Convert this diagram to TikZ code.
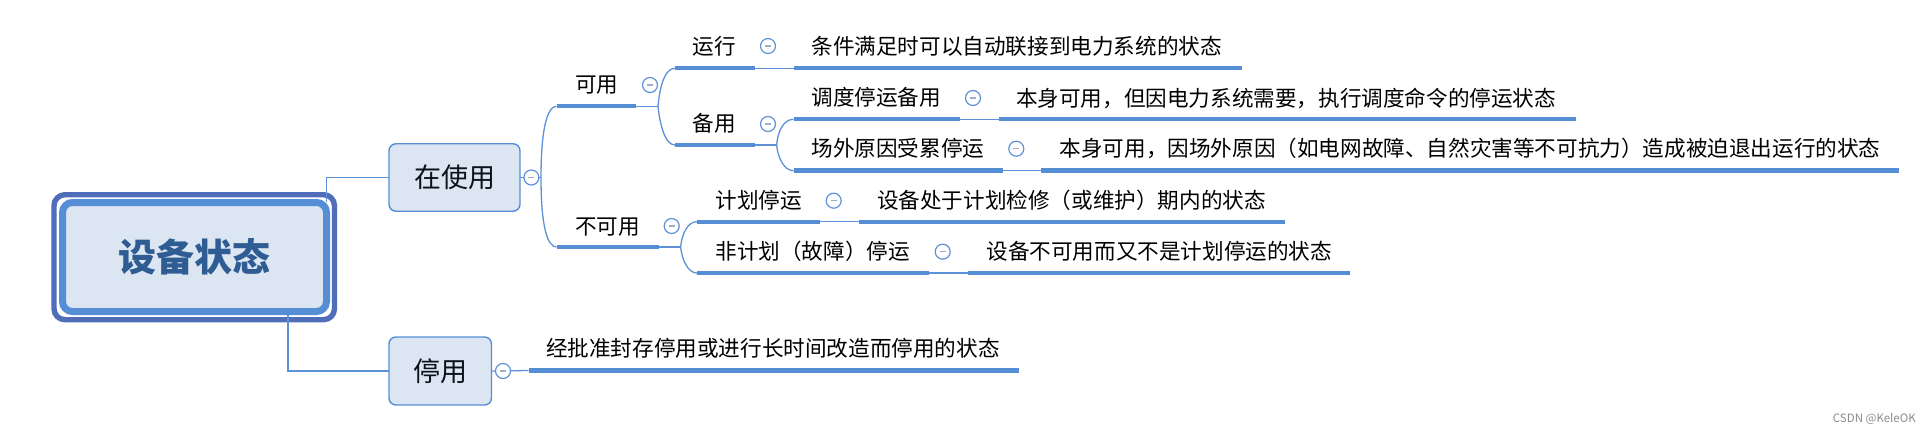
\documentclass[tikz,border=0pt]{standalone}
\usepackage{fontspec}
\setmainfont{Noto Sans CJK SC}
\definecolor{bar}{HTML}{558ED5}
\definecolor{wire}{HTML}{5E92D8}
\definecolor{pale}{HTML}{DCE6F2}
\definecolor{frameblue}{HTML}{4F6DB8}
\definecolor{titleblue}{HTML}{2F5C92}
\definecolor{minusgrey}{HTML}{9DAEC8}
\tikzset{
  x=1pt,y=-1pt,
  wireline/.style={draw=wire,line width=1.3pt},
  barline/.style={draw=bar,line width=4.4pt},
  label/.style={anchor=west,inner sep=0pt,outer sep=0pt,text height=19pt,text depth=2.6pt,font=\fontsize{21.6pt}{24pt}\selectfont,text=black},
  topicbox/.style={draw=bar,line width=1.4pt,fill=pale,rounded corners=7pt,inner sep=0pt,outer sep=0pt,font=\fontsize{27pt}{30pt}\selectfont,text=black!80!titleblue},
  toggle/.style={circle,draw=wire,line width=1.2pt,fill=white,minimum size=15pt,inner sep=0pt,outer sep=0pt,
    path picture={\draw[minusgrey,line width=1.2pt] (path picture bounding box.center)+(-3pt,0pt) -- +(3pt,0pt);}},
}
% name, left x, right x, y of the bar, text x, text y, text
\newcommand{\topicbar}[7]{%
  \coordinate (#1L) at (#2,#4);
  \coordinate (#1R) at (#3,#4);
  \draw[barline] (#1L) -- (#1R);
  \node[label] (#1T) at (#5,#6) {#7};
}
\begin{document}
\begin{tikzpicture}
\useasboundingbox (0,0) rectangle (1931,433);
\fill[white] (0,0) rectangle (1931,433);

% root
\node[draw=frameblue,line width=5.4pt,rounded corners=11pt,minimum width=280.5pt,minimum height=125pt,inner sep=0pt,outer sep=0pt] (rootframe) at (194.25,257.2) {};
\node[draw=bar,fill=pale,line width=7pt,rounded corners=10pt,minimum width=264pt,minimum height=109pt,inner sep=0pt,outer sep=0pt,font=\fontsize{38pt}{42pt}\selectfont\bfseries,text=titleblue] (root) at (194.5,257) {设备状态};

% first level
\node[topicbox,minimum width=131pt,minimum height=67.5pt] (inuse) at (454.5,177.5) {在使用};
\node[topicbox,minimum width=102.5pt,minimum height=68pt] (stop) at (440.25,371) {停用};

\coordinate (roota) at (326.5,201.7);
\coordinate (rootb) at (288,315);
\draw[wireline] (roota) |- (inuse.west);
\draw[wireline] (rootb) |- (stop.west);

% second level bars
\topicbar{ky}{556.5}{636}{106.3}{575}{84}{可用}
\topicbar{bky}{556.5}{659}{247}{575}{226.5}{不可用}
\topicbar{yx}{675}{755}{68.3}{692.7}{46}{运行}
\topicbar{by}{675}{755}{145}{692.7}{123}{备用}
\topicbar{dd}{793.6}{959.6}{119.3}{811.4}{97.7}{调度停运备用}
\topicbar{cw}{793.6}{1003}{170.7}{811.4}{148.7}{场外原因受累停运}
\topicbar{jh}{697}{820}{221.7}{715.4}{200.7}{计划停运}
\topicbar{fj}{697}{929}{273}{715.4}{251.7}{非计划（故障）停运}
% leaf bars
\topicbar{yxd}{793.6}{1241.7}{68.3}{811.4}{46}{条件满足时可以自动联接到电力系统的状态}
\topicbar{ddd}{998.5}{1576}{119.3}{1016}{98}{本身可用，但因电力系统需要，执行调度命令的停运状态}
\topicbar{cwd}{1041}{1899}{170.7}{1059.6}{148.7}{本身可用，因场外原因（如电网故障、自然灾害等不可抗力）造成被迫退出运行的状态}
\topicbar{jhd}{859}{1285}{221.7}{877}{200.7}{设备处于计划检修（或维护）期内的状态}
\topicbar{fjd}{968}{1350}{273}{986.4}{251.7}{设备不可用而又不是计划停运的状态}
\topicbar{tyd}{528.6}{1019}{370.5}{546}{348}{经批准封存停用或进行长时间改造而停用的状态}

% branch points
\coordinate (fork1) at (541,177.5);
\coordinate (fork2) at (658,106.3);
\coordinate (fork3) at (680.6,247);
\coordinate (fork4) at (776.6,145);

\draw[wireline] (inuse.east) -- (fork1);
\draw[wireline] (fork1) .. controls (541,130) and (547,106.3) .. (kyL);
\draw[wireline] (fork1) .. controls (541,225) and (547,247) .. (bkyL);
\draw[wireline] (kyR) -- (fork2);
\draw[wireline] (fork2) .. controls (660,85) and (665,68.3) .. (yxL);
\draw[wireline] (fork2) .. controls (660,125) and (665,145) .. (byL);
\draw[wireline] (byR) -- (fork4);
\draw[wireline] (fork4) .. controls (778,130) and (784,119.3) .. (ddL);
\draw[wireline] (fork4) .. controls (778,158) and (784,170.7) .. (cwL);
\draw[wireline] (bkyR) -- (fork3);
\draw[wireline] (fork3) .. controls (682,233) and (688,221.7) .. (jhL);
\draw[wireline] (fork3) .. controls (682,260) and (688,273) .. (fjL);
\draw[wireline] (yxR) -- (yxdL);
\draw[wireline] (ddR) -- (dddL);
\draw[wireline] (cwR) -- (cwdL);
\draw[wireline] (jhR) -- (jhdL);
\draw[wireline] (fjR) -- (fjdL);
\draw[wireline] (stop.east) -- (tydL);

% collapse toggles
\node[toggle] (t1) at (531.4,177.5) {};
\node[toggle] (t2) at (503,371) {};
\node[toggle] (t3) at (650,85) {};
\node[toggle] (t4) at (671.7,226) {};
\node[toggle] (t5) at (768,46) {};
\node[toggle] (t6) at (768,124) {};
\node[toggle] (t7) at (973,98) {};
\node[toggle] (t8) at (1016.3,148.7) {};
\node[toggle] (t9) at (833.7,200.7) {};
\node[toggle] (t10) at (942.7,251.7) {};

% watermark
\node[anchor=east,inner sep=0pt,font=\fontsize{11.5pt}{13pt}\selectfont,text=black!45] (wm) at (1916,419) {CSDN @KeleOK};
\end{tikzpicture}
\end{document}
